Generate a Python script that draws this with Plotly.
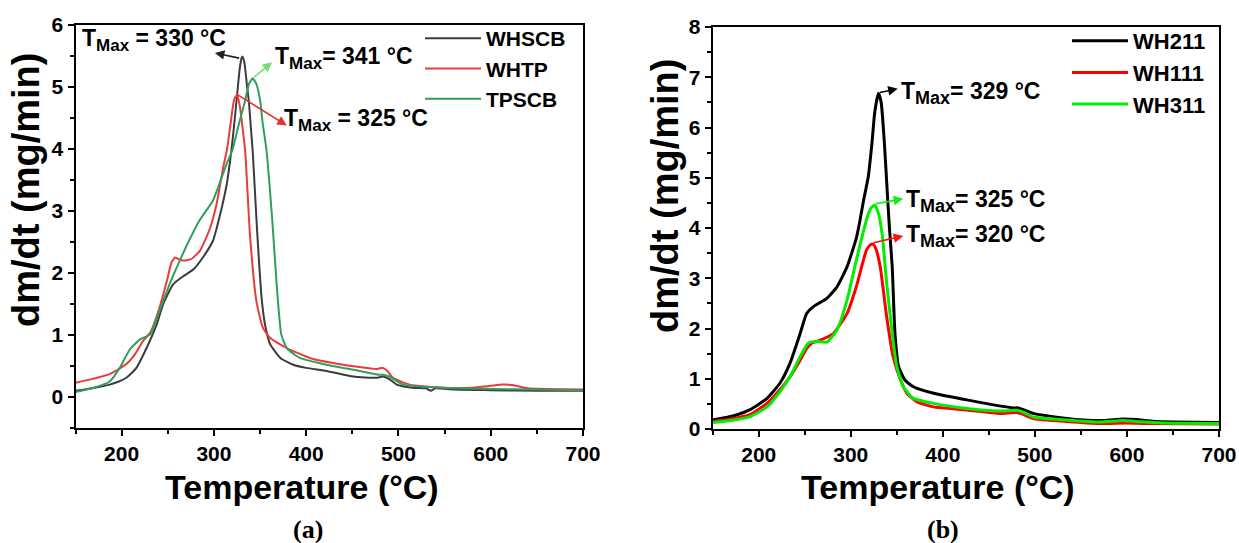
import plotly.graph_objects as go

# ---------------- data: panel (a) ----------------
temp_whscb = [150,160,175,187,197,205,216,227,238,245,256,267,278,288,299,306,314,319,322,325,328,330,331,333,336,338,340,342,347,352,356,361,372,386,400,422,451,476,483,490,498,515,530,535,540,560,600,650,700]
dmdt_whscb = [0.10,0.12,0.16,0.20,0.25,0.31,0.47,0.79,1.17,1.50,1.82,1.95,2.06,2.25,2.52,2.90,3.44,3.98,4.40,4.85,5.30,5.47,5.49,5.40,5.00,4.75,4.35,3.98,2.63,1.55,1.12,0.85,0.63,0.52,0.47,0.42,0.33,0.31,0.33,0.29,0.20,0.15,0.14,0.10,0.14,0.12,0.11,0.10,0.10]

temp_whtp = [150,165,187,205,215,223,231,241,249,254,258,262,267,272,276,285,296,303,310,314,318,322,325,328,331,334,339,346,353,361,379,404,440,470,476,483,488,494,512,548,580,600,613,625,640,700]
dmdt_whtp = [0.23,0.28,0.37,0.53,0.70,0.90,1.04,1.44,1.87,2.17,2.25,2.22,2.20,2.21,2.23,2.36,2.73,3.12,3.70,3.98,4.40,4.80,4.87,4.70,4.35,3.95,2.63,1.55,1.12,0.95,0.79,0.63,0.52,0.46,0.45,0.47,0.42,0.31,0.20,0.15,0.15,0.18,0.20,0.19,0.14,0.12]

temp_tpscb = [150,170,187,198,209,220,231,241,252,263,273,284,299,306,314,320,327,334,338,342,346,350,353,357,363,368,373,379,393,422,458,478,483,490,505,548,600,650,700]
dmdt_tpscb = [0.08,0.15,0.25,0.47,0.77,0.93,1.01,1.39,1.82,2.20,2.52,2.84,3.17,3.44,3.77,3.98,4.40,4.79,5.05,5.14,5.05,4.79,4.40,3.98,2.90,1.82,1.01,0.79,0.63,0.52,0.42,0.36,0.36,0.33,0.20,0.15,0.13,0.12,0.11]

# ---------------- data: panel (b) ----------------
temp_wh211 = [150,172,190,209,223,234,245,252,259,267,274,285,296,306,310,314,319,323,326,330,333,336.5,340,342,345,348,352,359,368,390,426,455,477,482,488,498,535,553,575,595,610,630,700]
dmdt_wh211 = [0.18,0.26,0.38,0.61,0.91,1.31,1.90,2.30,2.43,2.52,2.60,2.83,3.23,3.80,4.15,4.56,5.02,5.69,6.30,6.68,6.50,5.69,4.60,4.00,3.23,1.90,1.24,0.97,0.84,0.71,0.58,0.48,0.42,0.42,0.38,0.31,0.21,0.18,0.17,0.20,0.19,0.15,0.13]

temp_wh111 = [150,170,190,209,223,234,245,252,258,267,281,296,306,317,321,324,327,332,339,346,354,361,372,390,426,462,480,486,498,535,570,600,620,700]
dmdt_wh111 = [0.15,0.20,0.28,0.51,0.78,1.04,1.37,1.60,1.71,1.77,1.90,2.30,2.83,3.56,3.66,3.68,3.60,3.23,2.23,1.44,0.98,0.71,0.54,0.44,0.38,0.31,0.33,0.30,0.21,0.15,0.11,0.12,0.11,0.10]

temp_wh311 = [150,170,190,209,223,234,245,254,263,274,285,296,306,317,322,326,330,334,339,345,350,357,368,390,426,462,482,488,498,535,570,595,610,640,700]
dmdt_wh311 = [0.13,0.17,0.24,0.44,0.74,1.04,1.44,1.71,1.74,1.73,1.97,2.57,3.36,4.16,4.40,4.46,4.30,3.89,2.90,1.90,1.24,0.84,0.61,0.51,0.41,0.36,0.37,0.33,0.24,0.18,0.14,0.17,0.15,0.12,0.11]

# peak annotations: (text, text x, text y, arrow tail x, tail y, head x, head y, colour)
labels_a = [
    ("T<sub><span style='font-size:17px'>Max</span></sub> = 330 °C", 155, 5.76, 329, 5.46, 301, 5.55, "#222222"),
    ("T<sub><span style='font-size:17px'>Max</span></sub>= 341 °C", 364, 5.47, 342, 5.14, 363, 5.40, "#77dd77"),
    ("T<sub><span style='font-size:17px'>Max</span></sub> = 325 °C", 374, 4.46, 323, 4.90, 379, 4.38, "#e83030"),
]
labels_b = [
    ("T<sub><span style='font-size:18px'>Max</span></sub>= 329 °C", 352, 6.69, 330, 6.69, 351, 6.77, "#000000"),
    ("T<sub><span style='font-size:18px'>Max</span></sub>= 325 °C", 358, 4.53, 326, 4.48, 357, 4.58, "#11ee11"),
    ("T<sub><span style='font-size:18px'>Max</span></sub>= 320 °C", 358, 3.84, 323, 3.70, 357, 3.84, "#ff1010"),
]

x_title = "Temperature (°C)"
y_title = "dm/dt (mg/min)"

FONT = "Liberation Sans, Arial, sans-serif"
W, H = 1239, 543

fig = go.Figure()
fig.add_trace(go.Scatter(x=temp_whscb, y=dmdt_whscb, name="WHSCB", mode="lines",
                         line=dict(color="#3c3c3c", width=2, shape="spline", smoothing=0.5),
                         xaxis="x", yaxis="y", legend="legend"))
fig.add_trace(go.Scatter(x=temp_whtp, y=dmdt_whtp, name="WHTP", mode="lines",
                         line=dict(color="#ec3a3a", width=2, shape="spline", smoothing=0.5),
                         xaxis="x", yaxis="y", legend="legend"))
fig.add_trace(go.Scatter(x=temp_tpscb, y=dmdt_tpscb, name="TPSCB", mode="lines",
                         line=dict(color="#2f9f5e", width=2, shape="spline", smoothing=0.5),
                         xaxis="x", yaxis="y", legend="legend"))
fig.add_trace(go.Scatter(x=temp_wh211, y=dmdt_wh211, name="WH211", mode="lines",
                         line=dict(color="#000000", width=3, shape="spline", smoothing=0.5),
                         xaxis="x2", yaxis="y2", legend="legend2"))
fig.add_trace(go.Scatter(x=temp_wh111, y=dmdt_wh111, name="WH111", mode="lines",
                         line=dict(color="#ff0000", width=3, shape="spline", smoothing=0.5),
                         xaxis="x2", yaxis="y2", legend="legend2"))
fig.add_trace(go.Scatter(x=temp_wh311, y=dmdt_wh311, name="WH311", mode="lines",
                         line=dict(color="#00ee00", width=3, shape="spline", smoothing=0.5),
                         xaxis="x2", yaxis="y2", legend="legend2"))

tickfont = dict(family=FONT, size=21, color="black", weight="bold")
titlefont = dict(family=FONT, size=34, color="black", weight="bold")
ytitlefont = dict(family=FONT, size=38, color="black", weight="bold")

def xax(domain, anchor):
    return dict(domain=domain, anchor=anchor, range=[150, 700], tick0=0, dtick=100,
                showline=True, linecolor="black", linewidth=2, mirror=True,
                ticks="outside", ticklen=6, tickwidth=2, tickcolor="black",
                minor=dict(ticks="outside", ticklen=4, tickwidth=2, tickcolor="black", dtick=50, tick0=0),
                showgrid=False, zeroline=False, tickfont=tickfont, automargin=False)

def yax(domain, anchor, rng):
    return dict(domain=domain, anchor=anchor, range=rng, tick0=0, dtick=1,
                showline=True, linecolor="black", linewidth=2, mirror=True,
                ticks="outside", ticklen=6, tickwidth=2, tickcolor="black",
                minor=dict(ticks="outside", ticklen=4, tickwidth=2, tickcolor="black", dtick=0.5, tick0=0),
                showgrid=False, zeroline=False, tickfont=tickfont, automargin=False)

annotations = []
for (txt, tx, ty, ax_, ay_, hx, hy, col), (xr, yr), fsize in (
        [(l, ("x", "y"), 23) for l in labels_a] + [(l, ("x2", "y2"), 23) for l in labels_b]):
    annotations.append(dict(x=hx, y=hy, ax=ax_, ay=ay_, xref=xr, yref=yr, axref=xr, ayref=yr,
                            text="", showarrow=True, arrowhead=2, arrowsize=1.2, arrowwidth=1.6,
                            arrowcolor=col, standoff=0, startstandoff=0))
    annotations.append(dict(x=tx, y=ty, xref=xr, yref=yr, text=txt, showarrow=False,
                            xanchor="left", yanchor="middle",
                            font=dict(family=FONT, size=fsize, color="black", weight="bold")))

# axis titles (placed as in the reference, slightly off-centre)
for cx, cy in [(302, 487), (938, 487)]:
    annotations.append(dict(x=cx/W, y=1-cy/H, xref="paper", yref="paper", text=x_title, showarrow=False,
                            xanchor="center", yanchor="middle", font=titlefont))
for cx, cy in [(26, 190), (665, 196)]:
    annotations.append(dict(x=cx/W, y=1-cy/H, xref="paper", yref="paper", text=y_title, showarrow=False,
                            textangle=-90, xanchor="center", yanchor="middle", font=ytitlefont))

serif = dict(family="Liberation Serif, Times New Roman, serif", size=26, color="black", weight="bold")
for lab, cx in [("(a)", 308), ("(b)", 943)]:
    annotations.append(dict(x=cx/W, y=1-529/H, xref="paper", yref="paper", text=lab, showarrow=False,
                            xanchor="center", yanchor="middle", font=serif))

fig.update_layout(
    width=W, height=H, margin=dict(l=0, r=0, t=0, b=0),
    paper_bgcolor="white", plot_bgcolor="white",
    xaxis=xax([75.5/W, 583/W], "y"),
    yaxis=yax([1-428/H, 1-25/H], "x", [-0.5, 6]),
    xaxis2=xax([712.7/W, 1219/W], "y2"),
    yaxis2=yax([1-429/H, 1-27/H], "x2", [0, 8]),
    legend=dict(x=420/W, y=1-18/H, xanchor="left", yanchor="top", bgcolor="rgba(0,0,0,0)",
                font=dict(family=FONT, size=21, color="black", weight="bold"), itemwidth=56),
    legend2=dict(x=1067/W, y=1-20/H, xanchor="left", yanchor="top", bgcolor="rgba(0,0,0,0)",
                 font=dict(family=FONT, size=22, color="black", weight="bold"), itemwidth=56),
    annotations=annotations,
    showlegend=True,
)

fig.write_html("out.html")
